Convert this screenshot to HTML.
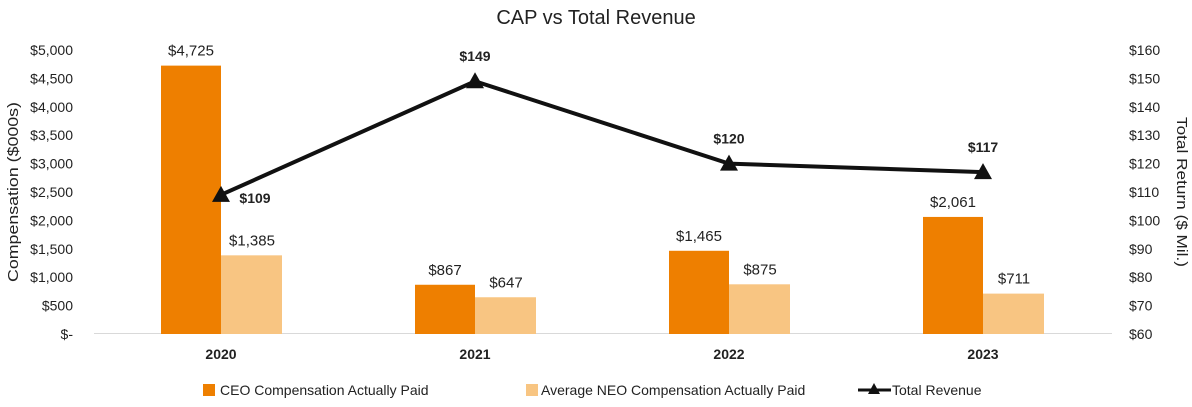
<!DOCTYPE html>
<html><head><meta charset="utf-8"><style>
body{margin:0;background:#fff;}
svg text{font-family:"Liberation Sans",sans-serif;fill:#222;}
</style></head><body>
<svg id="c" width="1192" height="402"></svg>
<script>
const categories=["2020","2021","2022","2023"];
const ceoValues=[4725,867,1465,2061];
const neoValues=[1385,647,875,711];
const revenueValues=[109,149,120,117];
const leftTicks=[0,500,1000,1500,2000,2500,3000,3500,4000,4500,5000];
const rightTicks=[60,70,80,90,100,110,120,130,140,150,160];
const svg=document.getElementById('c');
const NS='http://www.w3.org/2000/svg';
function el(t,a,p){const e=document.createElementNS(NS,t);for(const k in a)e.setAttribute(k,a[k]);(p||svg).appendChild(e);return e;}
const plotTop=50,plotBot=334;
const yL=v=>plotBot-(v/5000)*(plotBot-plotTop);
const yR=v=>plotBot-((v-60)/100)*(plotBot-plotTop);
const xC=i=>221+i*254;
const fmt=v=>'$'+v.toLocaleString('en-US');
let t=el('text',{x:596,y:24,'text-anchor':'middle','font-size':20});t.textContent='CAP vs Total Revenue';

let ax=el('line',{x1:94,y1:333.5,x2:1112,y2:333.5,stroke:'#d9d9d9','stroke-width':1});

leftTicks.forEach(v=>{const e=el('text',{x:73,y:yL(v)+5,'text-anchor':'end','font-size':14});e.textContent=v===0?'$-':fmt(v);
});
rightTicks.forEach(v=>{const e=el('text',{x:1129,y:yR(v)+5,'font-size':14});e.textContent='$'+v;
});
t=el('text',{transform:'translate(18,192) rotate(-90)','text-anchor':'middle','font-size':15,textLength:180,lengthAdjust:'spacingAndGlyphs'});t.textContent='Compensation ($000s)';

t=el('text',{transform:'translate(1177,192) rotate(90)','text-anchor':'middle','font-size':15,textLength:150,lengthAdjust:'spacingAndGlyphs'});t.textContent='Total Return ($ Mil.)';

categories.forEach((c,i)=>{
  const x=xC(i);
  let r=el('rect',{x:x-60,y:yL(ceoValues[i]),width:60,height:plotBot-yL(ceoValues[i]),fill:'#EE7F00'});
  
  r=el('rect',{x:x,y:yL(neoValues[i]),width:61,height:plotBot-yL(neoValues[i]),fill:'#F8C582'});
  
  let e=el('text',{x:x-30,y:yL(ceoValues[i])-10,'text-anchor':'middle','font-size':15});e.textContent=fmt(ceoValues[i]);
  
  e=el('text',{x:x+31,y:yL(neoValues[i])-10,'text-anchor':'middle','font-size':15});e.textContent=fmt(neoValues[i]);
  
  e=el('text',{x:x,y:359,'text-anchor':'middle','font-size':14,'font-weight':'bold'});e.textContent=c;
  
});
const pts=revenueValues.map((v,i)=>xC(i)+','+yR(v)).join(' ');
let pl=el('polyline',{points:pts,fill:'none',stroke:'#111',"stroke-width":4});

revenueValues.forEach((v,i)=>{
  const x=xC(i),y=yR(v);
  let m=el('polygon',{points:`${x},${y-9} ${x-9},${y+7} ${x+9},${y+7}`,fill:'#111'});
  
  const lx=i===0?x+34:x,ly=i===0?y+8:y-20;
  let e=el('text',{x:lx,y:ly,'text-anchor':'middle','font-size':14,'font-weight':'bold'});e.textContent='$'+v;
  
});
let s=el('rect',{x:203,y:384,width:12,height:12,fill:'#EE7F00'});
t=el('text',{x:220,y:395,'font-size':14});t.textContent='CEO Compensation Actually Paid';
s=el('rect',{x:526,y:384,width:12,height:12,fill:'#F8C582'});
t=el('text',{x:541,y:395,'font-size':14});t.textContent='Average NEO Compensation Actually Paid';
s=el('line',{x1:858,y1:390,x2:891,y2:390,stroke:'#111','stroke-width':3});
s=el('polygon',{points:'874,383 868,394 880,394',fill:'#111'});
t=el('text',{x:892,y:395,'font-size':14});t.textContent='Total Revenue';
</script>
</body></html>
